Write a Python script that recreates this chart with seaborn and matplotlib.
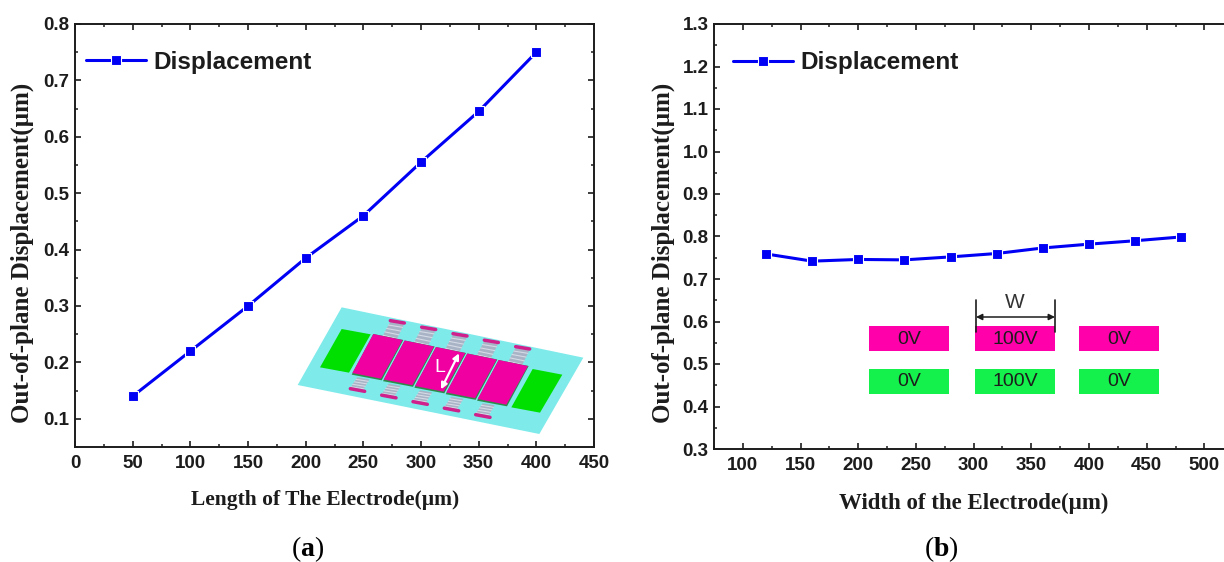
import numpy as np
import pandas as pd
import seaborn as sns
import matplotlib.pyplot as plt
from matplotlib.patches import Polygon, Rectangle
from matplotlib.ticker import MultipleLocator

# values
length_um = [50, 100, 150, 200, 250, 300, 350, 400]
length_disp = [0.14, 0.22, 0.30, 0.385, 0.46, 0.555, 0.645, 0.75]
width_um = [120, 160, 200, 240, 280, 320, 360, 400, 440, 480]
width_disp = [0.759, 0.742, 0.746, 0.745, 0.752, 0.760, 0.773, 0.782, 0.790, 0.799]
series_name = "Displacement"
ylabel = "Out-of-plane Displacement(\u00b5m)"
xlabel_a = "Length of The Electrode(\u00b5m)"
xlabel_b = "Width of the Electrode(\u00b5m)"
voltages = ["0V", "100V", "0V"]

W, H = 1224, 562
INK = "#1c1c1c"
BLUE = "#0000f5"
SANS = "Liberation Sans"
SERIF = "Liberation Serif"

sns.set_theme(style="ticks")
plt.rcParams["font.family"] = [SANS, "DejaVu Sans"]
plt.rcParams["mathtext.fontset"] = "custom"
plt.rcParams["mathtext.bf"] = SERIF + ":bold"
plt.rcParams["mathtext.rm"] = SERIF


def px_axes(fig, left, top, right, bottom):
    return fig.add_axes([left / W, 1 - bottom / H, (right - left) / W, (bottom - top) / H])


def style_axes(ax, xlim, ylim, xstep, ystep, right_spine=True):
    ax.set_xlim(*xlim)
    ax.set_ylim(*ylim)
    ax.xaxis.set_major_locator(MultipleLocator(xstep))
    ax.xaxis.set_minor_locator(MultipleLocator(xstep / 2))
    ax.yaxis.set_major_locator(MultipleLocator(ystep))
    ax.yaxis.set_minor_locator(MultipleLocator(ystep / 2))
    ax.tick_params(which="major", direction="in", length=4.5, width=1.2, color=INK,
                   top=True, right=right_spine, labelcolor=INK, labelsize=13.5)
    ax.tick_params(which="minor", direction="in", length=2.5, width=1.1, color=INK,
                   top=True, right=right_spine)
    ax.tick_params(axis="x", which="major", pad=6)
    ax.tick_params(axis="y", which="major", pad=4)
    for side in ax.spines:
        ax.spines[side].set_linewidth(1.4)
        ax.spines[side].set_color(INK)
    ax.spines["right"].set_visible(right_spine)
    for lab in ax.get_xticklabels() + ax.get_yticklabels():
        lab.set_fontweight("bold")
        lab.set_fontfamily(SANS)


def draw_line(ax, x, y):
    df = pd.DataFrame({"x": x, "y": y})
    sns.lineplot(data=df, x="x", y="y", ax=ax, color=BLUE, linewidth=2.2, marker="s",
                 markersize=6.8, markeredgecolor="white", markeredgewidth=0.8, label=series_name)


fig = plt.figure(figsize=(W / 100, H / 100), dpi=100, facecolor="white")

# (a) length sweep
ax_a = px_axes(fig, 75, 24, 594, 447)
draw_line(ax_a, length_um, length_disp)
style_axes(ax_a, (0, 450), (0.05, 0.8), 50, 0.1)
ax_a.set_yticks(np.arange(0.1, 0.85, 0.1))
ax_a.set_ylim(0.05, 0.8)

# (b) width sweep, cut off by the right edge of the image
ax_b = px_axes(fig, 714, 24, 1224, 449)
draw_line(ax_b, width_um, width_disp)
style_axes(ax_b, (75, 517), (0.3, 1.3), 50, 0.1, right_spine=False)

for ax, xlab, xsize, xy_x, xy_y, lab_x, leg_x, leg_y in [
    (ax_a, xlabel_a, 15.5, 325, 500, 22, 86, 62),
    (ax_b, xlabel_b, 16.5, 974, 503, 663, 733, 63),
]:
    box = ax.get_position()
    left_px, right_px = box.x0 * W, box.x1 * W
    top_px, bot_px = (1 - box.y1) * H, (1 - box.y0) * H
    ax.set_xlabel(xlab, fontfamily=SERIF, fontweight="bold", fontsize=xsize, color=INK)
    ax.set_ylabel(ylabel, fontfamily=SERIF, fontweight="bold", fontsize=18, color=INK)
    ax.xaxis.set_label_coords((xy_x - left_px) / (right_px - left_px), (bot_px - xy_y) / (bot_px - top_px))
    ax.xaxis.label.set_verticalalignment("center")
    ax.yaxis.set_label_coords((lab_x - left_px) / (right_px - left_px), (bot_px - 253) / (bot_px - top_px))
    ax.yaxis.label.set_verticalalignment("center")
    leg = ax.legend(loc="center left",
                    bbox_to_anchor=((leg_x - left_px) / (right_px - left_px), (bot_px - leg_y) / (bot_px - top_px)),
                    frameon=False, handlelength=2.47, handletextpad=0.29, borderpad=0, borderaxespad=0,
                    prop={"family": SANS, "weight": "bold", "size": 17.5})
    for t in leg.get_texts():
        t.set_color(INK)

# overlay in image pixels for the two device sketches and the captions
ov = fig.add_axes([0, 0, 1, 1], facecolor="none", zorder=5)
ov.set_xlim(0, W)
ov.set_ylim(H, 0)
ov.axis("off")


def z1(pts):
    # coordinates measured on the inset of panel a
    return [(280 + x / 3, 290 + y / 3) for x, y in pts]


def poly(pts, color, z=1):
    ov.add_patch(Polygon(z1(pts), closed=True, facecolor=color, edgecolor="none", zorder=z))


# device sketch, panel a
poly([(185, 52), (910, 203), (778, 432), (53, 285)], "#7eeaea")
poly([(185, 117), (272, 133), (207, 248), (120, 232)], "#00e000", 2)
poly([(758, 237), (847, 254), (780, 368), (694, 352)], "#00e000", 2)
for i in range(5):
    dx, dy = 94 * i, 19.5 * i
    # comb spring above and below each plate
    for base in ([(330, 97), (372, 103), (350, 148), (308, 138)],
                 [(232, 262), (268, 268), (250, 298), (212, 292)]):
        pts = [(x + dx, y + dy) for x, y in base]
        poly(pts, "#a9b3c6", 2)
        for s in np.arange(0.2, 1.0, 0.25):
            a = np.array(pts[0]) + s * (np.array(pts[3]) - np.array(pts[0]))
            b = np.array(pts[1]) + s * (np.array(pts[2]) - np.array(pts[1]))
            ov.plot(*zip(*z1([a, b])), color="#d5dbe6", lw=0.8, zorder=3)
    ov.plot(*zip(*z1([(331 + dx, 92 + dy), (373 + dx, 99 + dy)])), color="#d0208c", lw=2.5, zorder=3)
    ov.plot(*zip(*z1([(211 + dx, 296 + dy), (254 + dx, 304 + dy)])), color="#d0208c", lw=2.5, zorder=3)
    poly([(x + dx, y + dy) for x, y in [(280, 132), (370, 150), (305, 271), (215, 254)]], "#2f8a4a", 3)
    poly([(x + dx, y + dy) for x, y in [(280, 132), (368, 150), (303, 266), (217, 249)]], "#f000a0", 4)
(ax_x0, ax_y0), (ax_x1, ax_y1) = z1([(537, 190), (483, 298)])
ov.annotate("", xy=(ax_x0, ax_y0), xytext=(ax_x1, ax_y1), zorder=6,
            arrowprops=dict(arrowstyle="<|-|>", color="white", lw=1.6, mutation_scale=9, shrinkA=0, shrinkB=0))
ov.text(440, 367, "L", color="white", fontsize=14, ha="center", va="center", zorder=6)

# electrode diagram, panel b
rect_x = [869, 975, 1079]
for rx, volt in zip(rect_x, voltages):
    for top, col in ((325.5, "#ff00aa"), (368.5, "#14f04c")):
        ov.add_patch(Rectangle((rx, top), 80, 25.5, facecolor=col, edgecolor="none", zorder=1))
        ov.text(rx + 40, top + 13.5, volt, color=INK, fontsize=14, ha="center", va="center", zorder=2)
for vx in (976, 1055):
    ov.plot([vx, vx], [300, 332], color=INK, lw=1.2, zorder=3)
ov.annotate("", xy=(976, 317), xytext=(1055, 317), zorder=3,
            arrowprops=dict(arrowstyle="<|-|>", color=INK, lw=1.1, mutation_scale=9, shrinkA=0, shrinkB=0))
ov.text(1015, 302, "W", color="#333333", fontsize=15, ha="center", va="center")

# captions
for cx, name in ((308, "a"), (941, "b")):
    ov.text(cx, 549, "(" + r"$\mathbf{" + name + r"}$" + ")", fontfamily=SERIF, fontsize=20,
            color="black", ha="center", va="center")

fig.savefig("out.png", dpi=100)
